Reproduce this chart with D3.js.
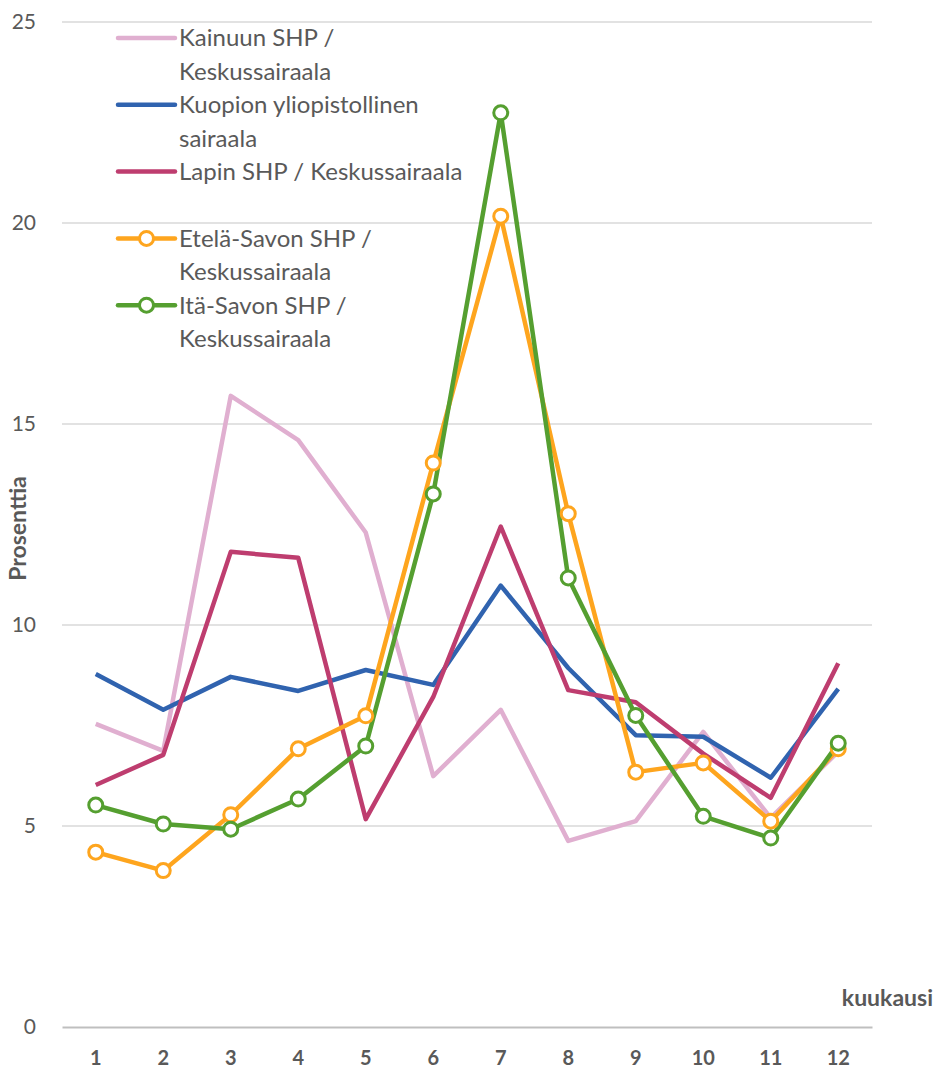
<!DOCTYPE html>
<html>
<head>
<meta charset="utf-8">
<script src="https://cdn.jsdelivr.net/npm/d3@7"></script>
<style>
  body { margin: 0; background: #fff; }
  svg { font-family: Lato, "Liberation Sans", sans-serif; }
</style>
</head>
<body>
<div id="chart"></div>
<script>
// Kuukaudet ja arvot (prosenttia)
const months = ["1", "2", "3", "4", "5", "6", "7", "8", "9", "10", "11", "12"];
const yTicks = [0, 5, 10, 15, 20, 25];

const kainuu = [7.54, 6.87, 15.7, 14.6, 12.3, 6.24, 7.89, 4.63, 5.12, 7.34, 5.2, 6.85];
const kuopio = [8.78, 7.89, 8.71, 8.36, 8.88, 8.51, 10.98, 8.93, 7.26, 7.22, 6.2, 8.41];
const lappi = [6.02, 6.77, 11.82, 11.67, 5.17, 8.21, 12.45, 8.38, 8.08, 6.8, 5.7, 9.05];
const etelaSavo = [4.35, 3.89, 5.28, 6.92, 7.74, 14.03, 20.17, 12.77, 6.34, 6.57, 5.12, 6.92];
const itaSavo = [5.52, 5.05, 4.92, 5.67, 6.99, 13.26, 22.74, 11.17, 7.75, 5.24, 4.7, 7.06];

const series = [
    { name: ["Kainuun SHP /", "Keskussairaala"], values: kainuu, color: "#E0AFD0", marker: false },
    { name: ["Kuopion yliopistollinen", "sairaala"], values: kuopio, color: "#3063AF", marker: false },
    { name: ["Lapin SHP / Keskussairaala", ""], values: lappi, color: "#BE3D6F", marker: false },
    { name: ["Etelä-Savon SHP /", "Keskussairaala"], values: etelaSavo, color: "#FEA51E", marker: true },
    { name: ["Itä-Savon SHP /", "Keskussairaala"], values: itaSavo, color: "#559F30", marker: true }
];

const W = 938, H = 1072;
const margin = { top: 22, right: 66, bottom: 45, left: 62 };
const width = W - margin.left - margin.right;
const height = H - margin.top - margin.bottom;

const svg = d3.select("#chart").append("svg")
    .attr("width", W)
    .attr("height", H);

const g = svg.append("g")
    .attr("transform", `translate(${margin.left},${margin.top})`);

const x = d3.scaleBand().domain(months).range([0, width]);
const y = d3.scaleLinear().domain([0, 25]).range([height, 0]);

// Ruudukko
g.append("g")
    .selectAll("line")
    .data(yTicks.filter(d => d > 0))
    .join("line")
    .attr("x1", 0).attr("x2", width)
    .attr("y1", d => y(d)).attr("y2", d => y(d))
    .attr("stroke", "#d9d9d9")
    .attr("stroke-width", 1.5);

// Y-akseli
const yAxis = g.append("g")
    .call(d3.axisLeft(y).tickValues(yTicks).tickSize(0).tickPadding(26));
yAxis.select(".domain").remove();
yAxis.selectAll("text")
    .attr("font-size", 21)
    .attr("fill", "#595959")
    .attr("font-family", "Lato, sans-serif");

// X-akseli
const xAxis = g.append("g")
    .attr("transform", `translate(0,${height})`)
    .call(d3.axisBottom(x).tickSize(0).tickPadding(24));
xAxis.select(".domain")
    .attr("stroke", "#bfbfbf")
    .attr("stroke-width", 2);
xAxis.selectAll("text")
    .attr("font-size", 20)
    .attr("font-weight", "bold")
    .attr("fill", "#595959")
    .attr("font-family", "Lato, sans-serif");

// Akselien otsikot
svg.append("text")
    .attr("transform", `translate(26,${margin.top + height / 2 + 4}) rotate(-90)`)
    .attr("text-anchor", "middle")
    .attr("font-size", 23)
    .attr("font-weight", "bold")
    .attr("fill", "#595959")
    .text("Prosenttia");

svg.append("text")
    .attr("x", 933)
    .attr("y", 1006)
    .attr("text-anchor", "end")
    .attr("font-size", 23)
    .attr("font-weight", "bold")
    .attr("fill", "#595959")
    .text("kuukausi");

// Viivat
const line = d3.line()
    .x((d, i) => x(months[i]) + x.bandwidth() / 2)
    .y(d => y(d));

series.forEach(s => {
    g.append("path")
        .datum(s.values)
        .attr("d", line)
        .attr("fill", "none")
        .attr("stroke", s.color)
        .attr("stroke-width", 4.5)
        .attr("stroke-linejoin", "round");
});

series.filter(s => s.marker).forEach(s => {
    g.selectAll(null)
        .data(s.values)
        .join("circle")
        .attr("cx", (d, i) => x(months[i]) + x.bandwidth() / 2)
        .attr("cy", d => y(d))
        .attr("r", 7)
        .attr("fill", "#fff")
        .attr("stroke", s.color)
        .attr("stroke-width", 3);
});

// Selite
const legend = svg.append("g").attr("transform", "translate(118,38)");
const rowH = 33.4;
series.forEach((s, i) => {
    const row = legend.append("g").attr("transform", `translate(0,${i * rowH * 2})`);
    row.append("line")
        .attr("x1", 0).attr("x2", 57)
        .attr("y1", 0).attr("y2", 0)
        .attr("stroke", s.color)
        .attr("stroke-width", 4.5)
        .attr("stroke-linecap", "round");
    if (s.marker) {
        row.append("circle")
            .attr("cx", 28.5).attr("cy", 0).attr("r", 7)
            .attr("fill", "#fff")
            .attr("stroke", s.color)
            .attr("stroke-width", 3);
    }
    s.name.forEach((t, j) => {
        row.append("text")
            .attr("x", 61)
            .attr("y", j * rowH)
            .attr("dy", "0.35em")
            .attr("font-size", 24)
            .attr("fill", "#595959")
            .text(t);
    });
});
</script>
</body>
</html>
